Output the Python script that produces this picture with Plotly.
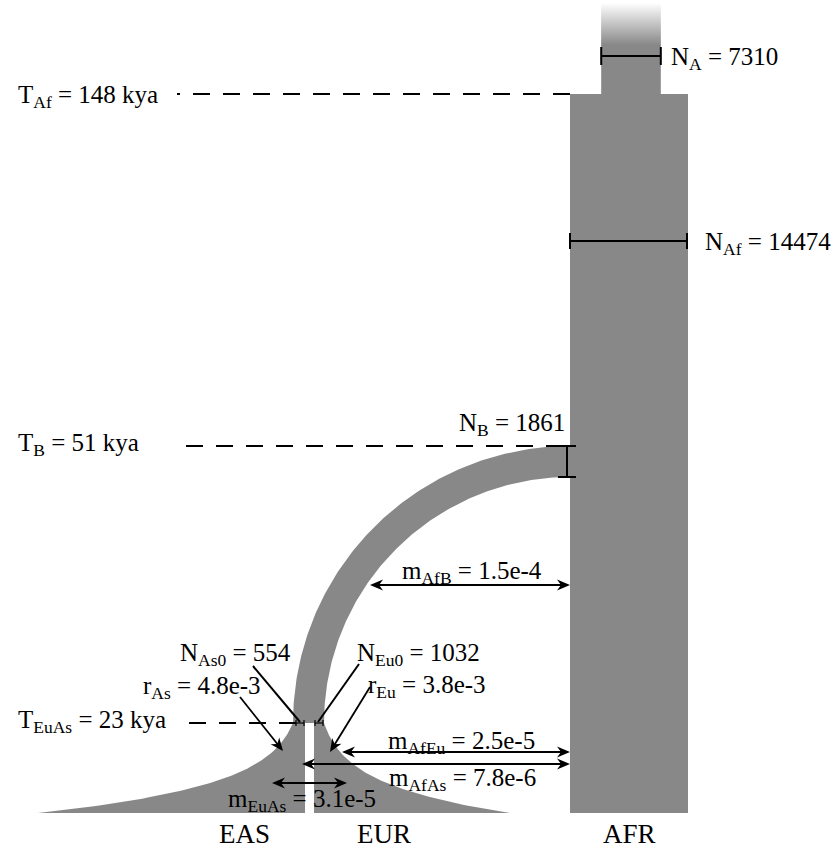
import numpy as np
import plotly.graph_objects as go

# ---------------- data (model parameters) ----------------
pop_labels = ["EAS", "EUR", "AFR"]
size_params = ["A", "Af", "B", "As0", "Eu0"]
size_values = [7310, 14474, 1861, 554, 1032]
time_params = ["Af", "B", "EuAs"]
time_kya = [148, 51, 23]
growth_params = ["As", "Eu"]
growth_values = ["4.8e-3", "3.8e-3"]
mig_params = ["AfB", "AfEu", "AfAs", "EuAs"]
mig_values = ["1.5e-4", "2.5e-5", "7.8e-6", "3.1e-5"]

N = dict(zip(size_params, size_values))
T = dict(zip(time_params, time_kya))
R = dict(zip(growth_params, growth_values))
M = dict(zip(mig_params, mig_values))

# ---------------- schematic scales (layout) ----------------
W, H = 834, 848
GRAY = "#888888"
FONT = "Liberation Serif"
FS = 25

# schematic (non-linear) time axis: kya -> vertical position
_t_anchor = [0, T["EuAs"], T["B"], T["Af"]]
_y_anchor = [813, 723, 446, 94]


def ty(t):
    return float(np.interp(t, _t_anchor, _y_anchor))


N_SCALE = 118.0 / N["Af"]        # px per individual for the African columns
AFR_LEFT = 570.0
B_WIDTH = 31.0                    # drawn width of bottleneck branch
GAP = 9.0                          # white gap between EAS and EUR
EAS_BOTTOM_W = 267.0
EUR_BOTTOM_W = 196.0

fig = go.Figure()


def poly(xs, ys, color=GRAY):
    fig.add_trace(go.Scatter(x=list(xs), y=list(ys), fill="toself", fillcolor=color,
                             mode="lines", line=dict(width=0, color=color),
                             hoverinfo="skip", showlegend=False))


shapes = []
annots = []


def seg(x0, y0, x1, y1, w=2.0, dash=None):
    d = dict(type="line", x0=x0, y0=y0, x1=x1, y1=y1, xref="x", yref="y",
             line=dict(color="black", width=w))
    if dash:
        d["line"]["dash"] = dash
    shapes.append(d)


def label(x, y, text, anchor="left", size=FS):
    annots.append(dict(x=x, y=y, xref="x", yref="y", text=text, showarrow=False,
                       xanchor=anchor, yanchor="middle",
                       font=dict(family=FONT, size=size, color="black")))


HEAD_L, HEAD_HW, HEAD_NOTCH = 13.0, 5.5, 9.0


def head(tx, ty_, fx, fy):
    """stealth arrow head with tip at (tx, ty_) coming from (fx, fy); returns shaft end"""
    d = np.array([tx - fx, ty_ - fy], dtype=float)
    d /= np.hypot(*d)
    n = np.array([-d[1], d[0]])
    tip = np.array([tx, ty_], dtype=float)
    p1 = tip - HEAD_L * d + HEAD_HW * n
    p2 = tip - HEAD_NOTCH * d
    p3 = tip - HEAD_L * d - HEAD_HW * n
    pts = [tip, p1, p2, p3, tip]
    poly([p[0] for p in pts], [p[1] for p in pts], color="black")
    return p2 + 1.0 * d


def arrow(x0, y0, x1, y1, both=False):
    e = head(x1, y1, x0, y0)
    s = head(x0, y0, x1, y1) if both else np.array([x0, y0], dtype=float)
    seg(s[0], s[1], e[0], e[1], w=1.8)


# ---------------- AFR ----------------
afr_w = N["Af"] * N_SCALE
afr_c = AFR_LEFT + afr_w / 2
y_af = ty(T["Af"])
y_0 = ty(0)
poly([AFR_LEFT, AFR_LEFT + afr_w, AFR_LEFT + afr_w, AFR_LEFT],
     [y_af, y_af, y_0, y_0])

# ancestral population with faded top
anc_w = N["A"] * N_SCALE
ax0, ax1 = afr_c - anc_w / 2 + 2, afr_c + anc_w / 2 + 2
fade_top, fade_bot = 3.0, 45.0
poly([ax0, ax1, ax1, ax0], [fade_bot, fade_bot, y_af + 0.5, y_af + 0.5])
steps = 42
for i in range(steps):
    f = (i + 0.5) / steps
    c = int(round(255 - (255 - 136) * f))
    ya = fade_top + (fade_bot - fade_top) * i / steps
    yb = fade_top + (fade_bot - fade_top) * (i + 1) / steps + 0.6
    shapes.append(dict(type="rect", x0=ax0, x1=ax1, y0=ya, y1=yb, xref="x", yref="y",
                       fillcolor=f"rgb({c},{c},{c})", line=dict(width=0), layer="below"))

# ---------------- bottleneck branch (quarter ring) ----------------
y_b = ty(T["B"])
y_s = ty(T["EuAs"])
cx, cy = AFR_LEFT, y_s
r_out = cy - y_b
r_in = r_out - B_WIDTH
phi = np.linspace(0, np.pi / 2, 160)
xo = cx - r_out * np.sin(phi)
yo = cy - r_out * np.cos(phi)
xi = cx - r_in * np.sin(phi[::-1])
yi = cy - r_in * np.cos(phi[::-1])
poly(np.concatenate([[AFR_LEFT + 2], xo, [xo[-1]], [xi[0]], xi, [AFR_LEFT + 2]]),
     np.concatenate([[y_b], yo, [y_s + 1], [y_s + 1], yi, [y_b + B_WIDTH]]))

# ---------------- EAS / EUR exponential growth ----------------
split_l = cx - r_out
split_r = cx - r_in
split_c = (split_l + split_r) / 2 + 1
eas_r = split_c - GAP / 2
eur_l = split_c + GAP / 2
yy = np.linspace(y_s, y_0, 120)
fr = (yy - y_s) / (y_0 - y_s)
eas_w0 = eas_r - split_l
eur_w0 = split_r - eur_l
eas_edge = eas_r - eas_w0 * (EAS_BOTTOM_W / eas_w0) ** fr
eur_edge = eur_l + eur_w0 * (EUR_BOTTOM_W / eur_w0) ** fr
poly(np.concatenate([[eas_r, eas_r], eas_edge[::-1]]),
     np.concatenate([[y_s, y_0], yy[::-1]]))
poly(np.concatenate([[eur_l, eur_l], eur_edge[::-1]]),
     np.concatenate([[y_s, y_0], yy[::-1]]))
# white gap between the two daughter populations
poly([eas_r, eur_l, eur_l, eas_r], [y_s, y_s, y_0, y_0], color="white")

# ---------------- time lines ----------------
DASH = "17px,13px"
seg(AFR_LEFT, y_af, 177, y_af, dash=DASH)
seg(AFR_LEFT - 7, y_b, 177, y_b, dash=DASH)
seg(split_l + 3, y_s, 182, y_s, dash=DASH)
label(16, y_af + 2, f"T<sub>Af</sub> = {T['Af']} kya")
label(16, y_b - 2, f"T<sub>B</sub> = {T['B']} kya")
label(16, y_s - 2, f"T<sub>EuAs</sub> = {T['EuAs']} kya")

# ---------------- size bars ----------------
# N_A
yA = 56
seg(ax0, yA, ax1, yA)
seg(ax0, yA - 9, ax0, yA + 9)
seg(ax1, yA - 9, ax1, yA + 9)
label(ax1 + 8, yA + 2, f"N<sub>A</sub> = {N['A']}")
# N_Af
yAf = 241
seg(AFR_LEFT, yAf, AFR_LEFT + afr_w, yAf)
seg(AFR_LEFT, yAf - 8, AFR_LEFT, yAf + 8)
seg(AFR_LEFT + afr_w - 1, yAf - 8, AFR_LEFT + afr_w - 1, yAf + 8)
label(833, yAf + 2, f"N<sub>Af</sub> = {N['Af']}", anchor="right")
# N_B
xB = AFR_LEFT - 3
seg(xB, y_b, xB, y_b + B_WIDTH)
seg(xB - 9, y_b, xB + 9, y_b)
seg(xB - 9, y_b + B_WIDTH, xB + 9, y_b + B_WIDTH)
label(xB, y_b - 22, f"N<sub>B</sub> = {N['B']}", anchor="right")
# split bars
for a, b in [(split_l + 3, eas_r - 1), (eur_l + 1, split_r - 1)]:
    seg(a, y_s, b, y_s, w=1.2)
    seg(a, y_s - 3, a, y_s + 3, w=1.2)
    seg(b, y_s - 3, b, y_s + 3, w=1.2)

# pointers to split sizes
seg(253, 666, split_l + 7, y_s - 1)
label(293, 654, f"N<sub>As0</sub> = {N['As0']}", anchor="right")
seg(359, 664, split_r - 6, y_s - 1)
label(355, 654, f"N<sub>Eu0</sub> = {N['Eu0']}")

# growth rates
arrow(240, 697, 283, 751)
label(263, 687, f"r<sub>As</sub> = {R['As']}", anchor="right")
arrow(370, 687, 330, 752)
label(366, 686, f"r<sub>Eu</sub> = {R['Eu']}")

# ---------------- migration ----------------
arrow(370, 585, AFR_LEFT, 585, both=True)
label(472, 572, f"m<sub>AfB</sub> = {M['AfB']}", anchor="center")
arrow(342, 752, AFR_LEFT, 752, both=True)
label(461, 742, f"m<sub>AfEu</sub> = {M['AfEu']}", anchor="center")
arrow(eas_r - 3, 764, AFR_LEFT, 764, both=True)
label(462, 779, f"m<sub>AfAs</sub> = {M['AfAs']}", anchor="center")
arrow(272, 783, 347, 783, both=True)
label(302, 800, f"m<sub>EuAs</sub> = {M['EuAs']}", anchor="center")

# ---------------- population names ----------------
for name, xc in zip(pop_labels, [244, 384, afr_c]):
    label(xc, 834, name, anchor="center", size=27)

fig.update_layout(
    width=W, height=H, margin=dict(l=0, r=0, t=0, b=0),
    paper_bgcolor="white", plot_bgcolor="white",
    xaxis=dict(range=[0, W], visible=False, fixedrange=True),
    yaxis=dict(range=[H, 0], visible=False, fixedrange=True),
    shapes=shapes, annotations=annots, showlegend=False,
)
fig.write_html("out.html", config={"displayModeBar": False},
               post_script="document.body.style.margin='0';document.body.style.overflow='hidden';")
